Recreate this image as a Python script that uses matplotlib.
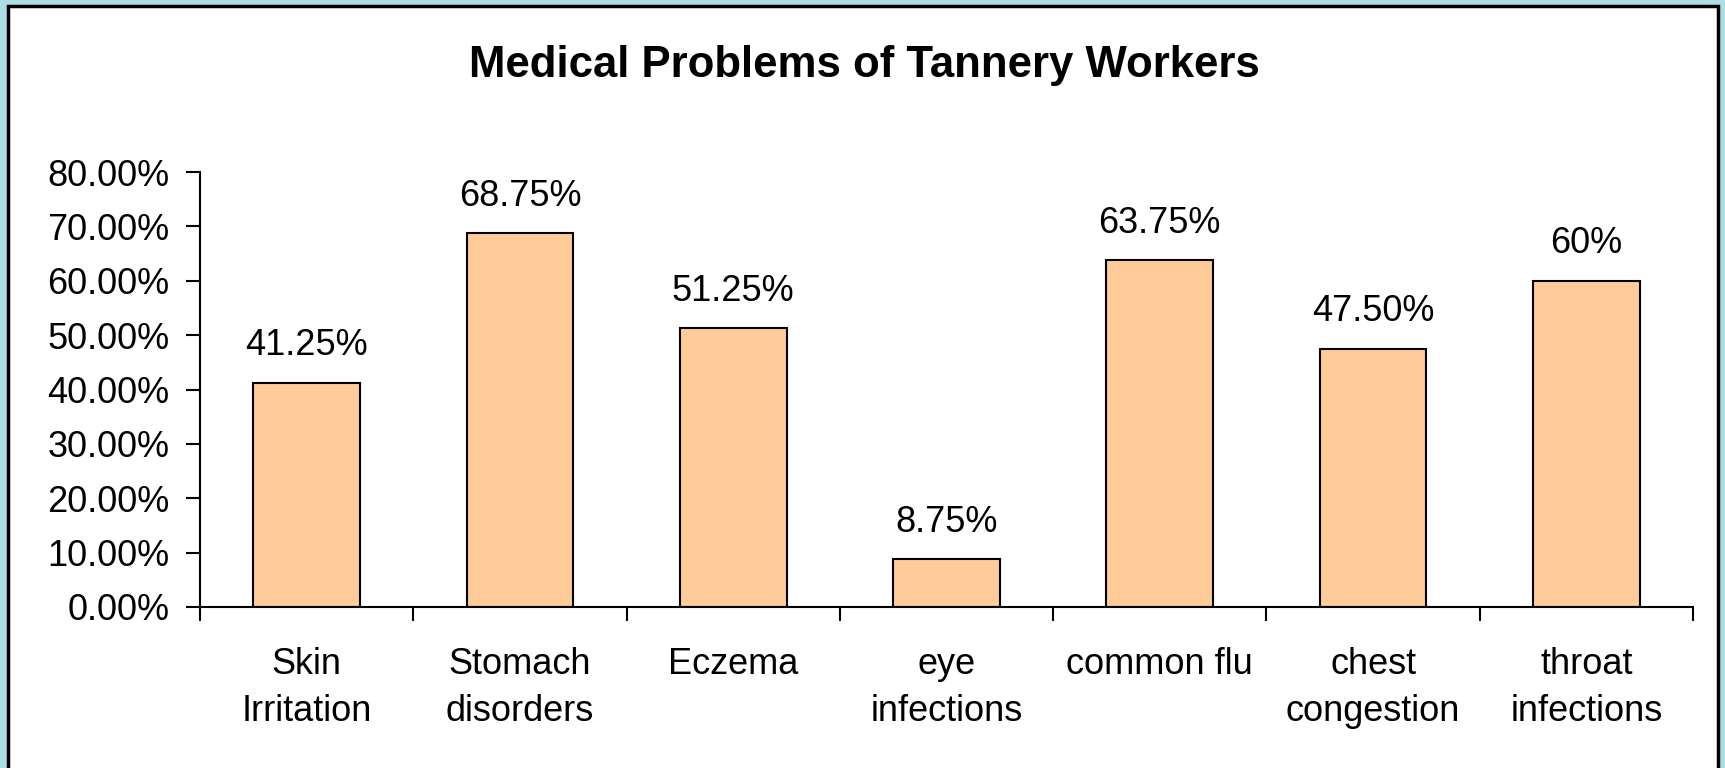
import numpy as np
import matplotlib
matplotlib.use("Agg")
import matplotlib.pyplot as plt
from matplotlib.patches import Rectangle
from matplotlib.ticker import MultipleLocator, PercentFormatter

categories = ["Skin\nIrritation", "Stomach\ndisorders", "Eczema", "eye\ninfections",
              "common flu", "chest\ncongestion", "throat\ninfections"]
values = [0.4125, 0.6875, 0.5125, 0.0875, 0.6375, 0.4750, 0.60]
value_labels = ["41.25%", "68.75%", "51.25%", "8.75%", "63.75%", "47.50%", "60%"]

plt.rcParams['font.family'] = ['Liberation Sans', 'DejaVu Sans']

W, H = 1725, 768
fig = plt.figure(figsize=(W / 100, H / 100), dpi=100)
fig.patch.set_facecolor('#aedde6')

# white chart area with black border
fig.patches.append(Rectangle((8 / W, -0.05), (1718 - 8) / W, 1.05 - 6 / H,
                             transform=fig.transFigure, facecolor='white',
                             edgecolor='black', linewidth=2.5, zorder=-5))

ax = fig.add_axes([200 / W, 1 - 607 / H, (1693 - 200) / W, (607 - 172) / H])
ax.set_facecolor('none')
ax.set_zorder(2)

x = np.arange(len(values))
ax.bar(x, values, width=0.5, color='#ffcc99', edgecolor='black', linewidth=1.5)

for xi, v, lab in zip(x, values, value_labels):
    ax.annotate(lab, (xi, v), xytext=(0, 14), textcoords='offset points',
                ha='center', va='bottom', fontsize=26)

ax.set_xlim(-0.5, len(values) - 0.5)
ax.set_ylim(0, 0.8)
ax.yaxis.set_major_locator(MultipleLocator(0.1))
ax.yaxis.set_major_formatter(PercentFormatter(1.0, decimals=2))

ax.set_xticks(x)
ax.set_xticklabels(categories, fontsize=26, linespacing=1.42)
ax.set_xticks(np.arange(-0.5, len(values)), minor=True)
ax.tick_params(axis='x', which='major', length=0, pad=29)
ax.tick_params(axis='x', which='minor', length=10, width=1.5, direction='out')
ax.tick_params(axis='y', length=10, width=1.5, direction='out', labelsize=26, pad=12)

for s in ['top', 'right']:
    ax.spines[s].set_visible(False)
for s in ['left', 'bottom']:
    ax.spines[s].set_linewidth(1.5)

t = fig.text(864 / W, 1 - 65 / H, "Medical Problems of Tannery Workers",
             ha='center', va='center', fontsize=31.5, fontweight='bold')
t.set_zorder(3)

fig.savefig("out.png", dpi=100, facecolor=fig.get_facecolor())
